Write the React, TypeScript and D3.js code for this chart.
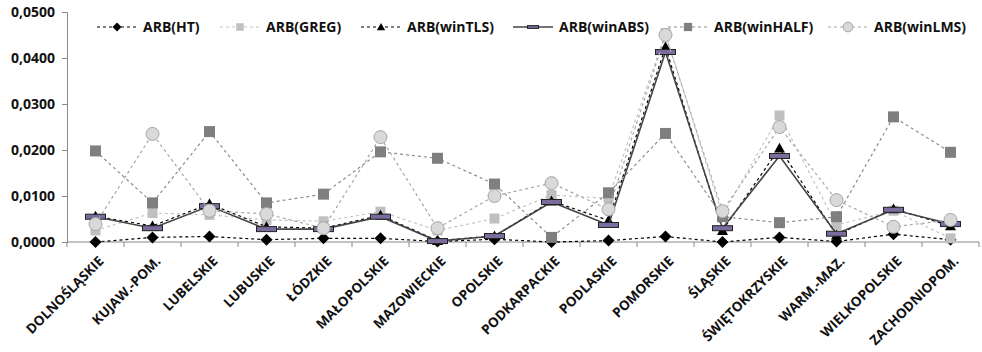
import React, { useRef, useEffect } from 'react'
import * as d3 from 'd3'

const categories = ["DOLNOŚLĄSKIE", "KUJAW.-POM.", "LUBELSKIE", "LUBUSKIE", "ŁÓDZKIE", "MAŁOPOLSKIE", "MAZOWIECKIE", "OPOLSKIE", "PODKARPACKIE", "PODLASKIE", "POMORSKIE", "ŚLĄSKIE", "ŚWIĘTOKRZYSKIE", "WARM.-MAZ.", "WIELKOPOLSKIE", "ZACHODNIOPOM."]

const arbHT = [0.0000, 0.0010, 0.0012, 0.0005, 0.0008, 0.0008, 0.0001, 0.0006, 0.0000, 0.0003, 0.0012, 0.0000, 0.0010, 0.0001, 0.0017, 0.0005]
const arbGREG = [0.0025, 0.0063, 0.0059, 0.0048, 0.0045, 0.0066, 0.0025, 0.0051, 0.0102, 0.0095, 0.0454, 0.0058, 0.0275, 0.0037, 0.0068, 0.0008]
const arbWinTLS = [0.0056, 0.0035, 0.0083, 0.0033, 0.0030, 0.0058, 0.0003, 0.0013, 0.0089, 0.0047, 0.0424, 0.0025, 0.0204, 0.0015, 0.0072, 0.0035]
const arbWinABS = [0.0055, 0.0030, 0.0078, 0.0028, 0.0028, 0.0055, 0.0002, 0.0013, 0.0087, 0.0037, 0.0413, 0.0030, 0.0187, 0.0018, 0.0070, 0.0039]
const arbWinHALF = [0.0198, 0.0085, 0.0240, 0.0085, 0.0104, 0.0196, 0.0182, 0.0126, 0.0010, 0.0107, 0.0236, 0.0055, 0.0042, 0.0055, 0.0272, 0.0195]
const arbWinLMS = [0.0039, 0.0235, 0.0068, 0.0061, 0.0030, 0.0228, 0.0030, 0.0100, 0.0128, 0.0071, 0.0450, 0.0067, 0.0250, 0.0091, 0.0033, 0.0048]

const yTicks = [0, 0.01, 0.02, 0.03, 0.04, 0.05]

const seriesNames = ["ARB(HT)", "ARB(GREG)", "ARB(winTLS)", "ARB(winABS)", "ARB(winHALF)", "ARB(winLMS)"]
const seriesValues = [arbHT, arbGREG, arbWinTLS, arbWinABS, arbWinHALF, arbWinLMS]

// look of each series (line + marker)
const styles = [
  { line: "#000", dash: "3,3", width: 1.2, marker: "diamond", fill: "#000", stroke: "#000" },
  { line: "#c4c4c4", dash: "3,3", width: 1.2, marker: "square", fill: "#c0c0c0", stroke: "#c0c0c0" },
  { line: "#000", dash: "3,3", width: 1.2, marker: "triangle", fill: "#000", stroke: "#000" },
  { line: "#444", dash: null, width: 1.6, marker: "bar", fill: "#7a6c9c", stroke: "#222" },
  { line: "#8c8c8c", dash: "3,3", width: 1.2, marker: "bigsquare", fill: "#7f7f7f", stroke: "#7f7f7f" },
  { line: "#a8a8a8", dash: "3,3", width: 1.2, marker: "circle", fill: "#d9d9d9", stroke: "#a6a6a6" },
]

const legendX = [97, 220, 361, 513, 668, 828]

const W = 982, H = 352
const margin = { left: 67, right: 3, top: 12, bottom: 110 }
const FONT = "'Open Sans', sans-serif"

function drawMarker(g: any, kind: string, x: number, y: number, st: any, scale = 1) {
  if (kind === "diamond") {
    const s = 6 * scale
    g.append("path").attr("d", `M${x},${y - s}L${x + s},${y}L${x},${y + s}L${x - s},${y}Z`).attr("fill", st.fill)
  } else if (kind === "square") {
    const s = 5 * scale
    g.append("rect").attr("x", x - s).attr("y", y - s).attr("width", 2 * s).attr("height", 2 * s).attr("fill", st.fill)
  } else if (kind === "bigsquare") {
    const s = 5.5 * scale
    g.append("rect").attr("x", x - s).attr("y", y - s).attr("width", 2 * s).attr("height", 2 * s).attr("fill", st.fill)
  } else if (kind === "triangle") {
    const s = 5.5 * scale
    g.append("path").attr("d", `M${x},${y - s}L${x + s},${y + s * 0.8}L${x - s},${y + s * 0.8}Z`).attr("fill", st.fill)
  } else if (kind === "bar") {
    const w = 10 * scale, h = 2.5 * scale
    g.append("rect").attr("x", x - w).attr("y", y - h).attr("width", 2 * w).attr("height", 2 * h)
      .attr("fill", st.fill).attr("stroke", st.stroke).attr("stroke-width", 1)
  } else if (kind === "circle") {
    g.append("circle").attr("cx", x).attr("cy", y).attr("r", 6.5 * scale)
      .attr("fill", st.fill).attr("stroke", st.stroke).attr("stroke-width", 1)
  }
}

const App = () => {
  const svgEl = useRef(null)

  useEffect(() => {
    const svg = d3.select(svgEl.current)
    svg.selectAll("*").remove()

    const x = d3.scaleBand().domain(categories).range([margin.left, W - margin.right])
    const y = d3.scaleLinear().domain([0, 0.05]).range([H - margin.bottom, margin.top])
    const cx = (c: string) => (x(c) as number) + x.bandwidth() / 2
    const fmt = (v: number) => d3.format(".4f")(v).replace(".", ",")

    // y axis
    const yAxis = svg.append("g").attr("transform", `translate(${margin.left},0)`)
      .call(d3.axisLeft(y).tickValues(yTicks).tickFormat(fmt as any).tickSize(5).tickPadding(7))
    yAxis.select(".domain").attr("stroke", "#888")
    yAxis.selectAll(".tick line").attr("stroke", "#888")
    yAxis.selectAll("text").attr("font-family", FONT).attr("font-weight", 700).attr("font-size", 14).attr("fill", "#111")

    // x axis
    const xAxis = svg.append("g").attr("transform", `translate(0,${H - margin.bottom})`)
    xAxis.append("line").attr("x1", margin.left).attr("x2", W - margin.right).attr("stroke", "#888")
    const bounds = categories.map(c => x(c) as number).concat([W - margin.right])
    xAxis.selectAll("line.tk").data(bounds).enter().append("line").attr("class", "tk")
      .attr("x1", d => d).attr("x2", d => d).attr("y1", 0).attr("y2", 5).attr("stroke", "#888")
    xAxis.selectAll("text").data(categories).enter().append("text")
      .attr("transform", d => `translate(${cx(d) + 9},${20}) rotate(-45)`)
      .attr("text-anchor", "end")
      .attr("font-family", FONT).attr("font-weight", 700).attr("font-size", 13.5).attr("fill", "#111")
      .text(d => d)

    // series
    seriesValues.forEach((vals, si) => {
      const st = styles[si]
      const line = d3.line<number>().x((d, i) => cx(categories[i])).y(d => y(d))
      svg.append("path").datum(vals).attr("d", line).attr("fill", "none")
        .attr("stroke", st.line).attr("stroke-width", st.width)
        .attr("stroke-dasharray", st.dash)
      const g = svg.append("g")
      vals.forEach((v, i) => drawMarker(g, st.marker, cx(categories[i]), y(v), st))
    })

    // legend
    const lg = svg.append("g")
    seriesNames.forEach((name, si) => {
      const st = styles[si]
      const lx = legendX[si], ly = 27
      lg.append("line").attr("x1", lx).attr("x2", lx + 40).attr("y1", ly).attr("y2", ly)
        .attr("stroke", st.line).attr("stroke-width", st.width).attr("stroke-dasharray", st.dash)
      drawMarker(lg, st.marker, lx + 20, ly, st, st.marker === "bar" ? 0.55 : 0.75)
      lg.append("text").attr("x", lx + 46).attr("y", ly + 5)
        .attr("font-family", FONT).attr("font-weight", 700).attr("font-size", 14).attr("fill", "#111")
        .text(name)
    })
  }, [])

  return (
    <div style={{ position: "absolute", left: 0, top: 0 }}>
      <svg ref={svgEl} width={W} height={H} style={{ display: "block", background: "#fff" }} />
    </div>
  )
}

export default App
